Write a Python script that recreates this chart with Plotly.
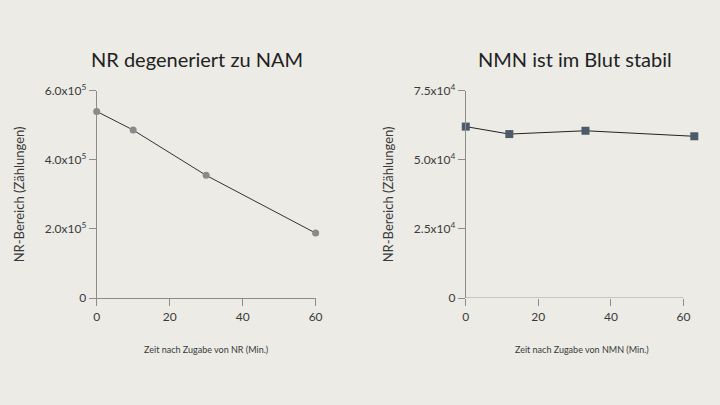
import plotly.graph_objects as go

# Data
nr_time = [0, 10, 30, 60]
nr_area = [5.40e5, 4.86e5, 3.55e5, 1.88e5]
nmn_time = [0, 12, 33, 63]
nmn_area = [6.20e4, 5.93e4, 6.05e4, 5.85e4]

nr_yticks = [0, 2e5, 4e5, 6e5]
nr_yticktext = ["0", "2.0x10<sup>5</sup>", "4.0x10<sup>5</sup>", "6.0x10<sup>5</sup>"]
nmn_yticks = [0, 2.5e4, 5e4, 7.5e4]
nmn_yticktext = ["0", "2.5x10<sup>4</sup>", "5.0x10<sup>4</sup>", "7.5x10<sup>4</sup>"]
xticks = [0, 20, 40, 60]

titles = ["NR degeneriert zu NAM", "NMN ist im Blut stabil"]
xtitles = ["Zeit nach Zugabe von NR (Min.)", "Zeit nach Zugabe von NMN (Min.)"]
ytitle = "NR-Bereich (Zählungen)"

BG = "#ECEBE6"
FONT = "Lato"
TXT = "#3a3a3a"
AX = "#8c8c8c"

fig = go.Figure()
fig.add_trace(go.Scatter(
    x=nr_time, y=nr_area, mode="lines+markers",
    line=dict(color="#333333", width=1),
    marker=dict(symbol="circle", size=7, color="#8a8a8a"),
    cliponaxis=False, xaxis="x", yaxis="y", showlegend=False))
fig.add_trace(go.Scatter(
    x=nmn_time, y=nmn_area, mode="lines+markers",
    line=dict(color="#222222", width=1),
    marker=dict(symbol="square", size=8, color="#4b5b69"),
    cliponaxis=False, xaxis="x2", yaxis="y2", showlegend=False))

W, H = 720, 405
def px(v): return v / W
def py(v): return (H - v) / H

axis_common = dict(showgrid=False, zeroline=False, ticks="outside", ticklen=7,
                   tickcolor=AX, tickwidth=1,
                   tickfont=dict(family=FONT, size=12, color=TXT))

R_LEFT, R_END60 = 469.3, 690.0
r_right = R_LEFT + 64 * (R_END60 - R_LEFT) / 60

fig.update_layout(
    width=W, height=H, autosize=False, paper_bgcolor=BG, plot_bgcolor=BG,
    margin=dict(l=0, r=0, t=0, b=0),
    font=dict(family=FONT, color=TXT),
    xaxis=dict(domain=[px(95), px(317)], range=[0, 60], anchor="y",
               tickvals=xticks, showline=True, linecolor=AX, linewidth=1,
               title=dict(text=xtitles[0], font=dict(size=9, color=TXT), standoff=24),
               **axis_common),
    yaxis=dict(domain=[py(301), py(85)], range=[0, 6e5], anchor="x",
               tickvals=nr_yticks, ticktext=nr_yticktext,
               showline=True, linecolor=AX, linewidth=1,
               title=dict(text=ytitle, font=dict(size=13, color=TXT), standoff=17),
               **axis_common),
    xaxis2=dict(domain=[px(R_LEFT), px(r_right)], range=[0, 64], anchor="y2",
                tickvals=xticks, showline=False,
                title=dict(text=xtitles[1], font=dict(size=9, color=TXT), standoff=24),
                **axis_common),
    yaxis2=dict(domain=[py(301), py(85)], range=[0, 7.5e4], anchor="x2",
                tickvals=nmn_yticks, ticktext=nmn_yticktext,
                showline=True, linecolor=AX, linewidth=1,
                title=dict(text=ytitle, font=dict(size=13, color=TXT), standoff=17),
                **axis_common),
)

# x-axis baseline of right panel ends at 60
fig.add_shape(type="line", xref="x2", yref="y2", x0=0, x1=60, y0=0, y1=0,
              line=dict(color=AX, width=1), layer="below")

fig.add_annotation(text=titles[0], xref="paper", yref="paper", x=px(197), y=py(52),
                   showarrow=False, font=dict(family=FONT, size=20, color="#222222"),
                   xanchor="center", yanchor="middle")
fig.add_annotation(text=titles[1], xref="paper", yref="paper", x=px(580), y=py(52),
                   showarrow=False, font=dict(family=FONT, size=20, color="#222222"),
                   xanchor="center", yanchor="middle")

fig.write_html("out.html",
               config={"displayModeBar": False, "responsive": False},
               post_script="document.body.style.margin='0';document.body.style.padding='0';document.body.style.overflow='hidden';")
